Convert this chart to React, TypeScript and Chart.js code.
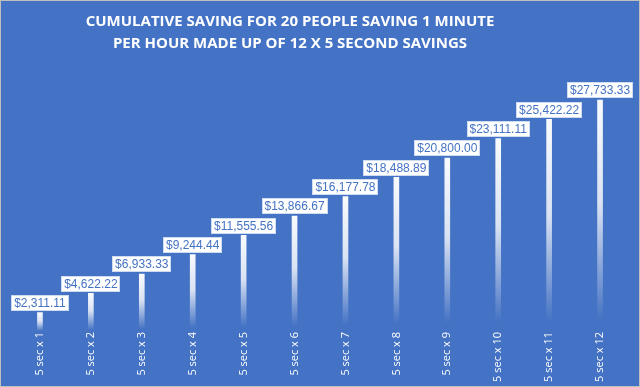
import React, { useEffect, useRef } from "react";
import { Chart, registerables } from "chart.js";

Chart.register(...registerables);

const categories = [
  "5 sec x 1", "5 sec x 2", "5 sec x 3", "5 sec x 4", "5 sec x 5", "5 sec x 6",
  "5 sec x 7", "5 sec x 8", "5 sec x 9", "5 sec x 10", "5 sec x 11", "5 sec x 12",
];
const savings = [
  2311.11, 4622.22, 6933.33, 9244.44, 11555.56, 13866.67,
  16177.78, 18488.89, 20800.0, 23111.11, 25422.22, 27733.33,
];
const titleLines = [
  "CUMULATIVE SAVING FOR 20 PEOPLE SAVING 1 MINUTE",
  "PER HOUR MADE UP OF 12 X 5 SECOND SAVINGS",
];

const BG = "#4472C4";
const LABEL_FONT = '12px "Liberation Sans Narrow", "Liberation Sans", sans-serif';

const fmt = (v: number) =>
  "$" + v.toLocaleString("en-US", { minimumFractionDigits: 2, maximumFractionDigits: 2 });

const bgPlugin = {
  id: "bgPlugin",
  beforeDraw(chart: any) {
    const { ctx, width, height } = chart;
    ctx.save();
    ctx.fillStyle = BG;
    ctx.fillRect(0, 0, width, height);
    ctx.strokeStyle = "#BFBFBF";
    ctx.lineWidth = 1;
    ctx.strokeRect(0.5, 0.5, width - 1, height - 1);
    ctx.restore();
  },
};

const titlePlugin = {
  id: "titlePlugin",
  afterDraw(chart: any) {
    const { ctx } = chart;
    ctx.save();
    ctx.fillStyle = "#FFFFFF";
    ctx.font = 'bold 15px "Open Sans", sans-serif';
    ctx.textAlign = "center";
    ctx.textBaseline = "middle";
    ctx.fillText(titleLines[0], 290, 22);
    ctx.fillText(titleLines[1], 290, 44);
    ctx.restore();
  },
};

const labelPlugin = {
  id: "labelPlugin",
  afterDatasetsDraw(chart: any) {
    const { ctx } = chart;
    const meta = chart.getDatasetMeta(0);
    ctx.save();
    ctx.font = LABEL_FONT;
    ctx.textAlign = "center";
    ctx.textBaseline = "middle";
    meta.data.forEach((bar: any, i: number) => {
      const text = fmt(savings[i]);
      const w = ctx.measureText(text).width + 6;
      const h = 16;
      const x = bar.x;
      const bottom = bar.y - 1.5;
      ctx.fillStyle = "#FFFFFF";
      ctx.fillRect(Math.round(x - w / 2), Math.round(bottom - h), Math.round(w), h);
      ctx.strokeStyle = "rgba(200,215,240,0.9)";
      ctx.lineWidth = 1;
      ctx.strokeRect(Math.round(x - w / 2) + 0.5, Math.round(bottom - h) + 0.5, Math.round(w) - 1, h - 1);
      ctx.fillStyle = "#4472C4";
      ctx.fillText(text, x, Math.round(bottom - h) + h / 2 + 0.5);
    });
    ctx.restore();
  },
};

export default function App() {
  const ref = useRef<HTMLCanvasElement | null>(null);

  useEffect(() => {
    document.body.style.margin = "0";
    const canvas = ref.current;
    if (!canvas) return;
    const chart = new Chart(canvas, {
      type: "bar",
      data: {
        labels: categories,
        datasets: [
          {
            data: savings,
            barThickness: 5,
            borderWidth: 0,
            backgroundColor: (c: any) => {
              const ch = c.chart;
              if (!ch.chartArea || c.type !== "data") return "#FFFFFF";
              const ys = ch.scales.y;
              const top = ys.getPixelForValue(c.raw);
              const base = ys.getPixelForValue(0);
              const g = ch.ctx.createLinearGradient(0, top, 0, base);
              g.addColorStop(0, "rgba(255,255,255,0.97)");
              g.addColorStop(0.45, "rgba(255,255,255,0.8)");
              g.addColorStop(0.95, "rgba(255,255,255,0)");
              g.addColorStop(1, "rgba(255,255,255,0)");
              return g;
            },
          },
        ],
      },
      options: {
        responsive: false,
        animation: false,
        layout: { padding: { top: 81, left: 14.5, right: 14.5, bottom: 0 } },
        plugins: {
          legend: { display: false },
          title: { display: false },
          tooltip: { enabled: false },
        },
        scales: {
          y: { display: false, min: 0, max: 30000 },
          x: {
            offset: true,
            grid: { display: false, drawTicks: false },
            border: { display: false },
            ticks: {
              color: "#FFFFFF",
              font: { family: '"Open Sans", sans-serif', size: 11 },
              minRotation: 90,
              maxRotation: 90,
              padding: 0,
              autoSkip: false,
            },
            afterFit: (scale: any) => {
              scale.height = 55;
            },
          },
        },
      },
      plugins: [bgPlugin, titlePlugin, labelPlugin],
    });
    return () => chart.destroy();
  }, []);

  return (
    <div style={{ width: 640, height: 387 }}>
      <canvas ref={ref} width={640} height={387} />
    </div>
  );
}
